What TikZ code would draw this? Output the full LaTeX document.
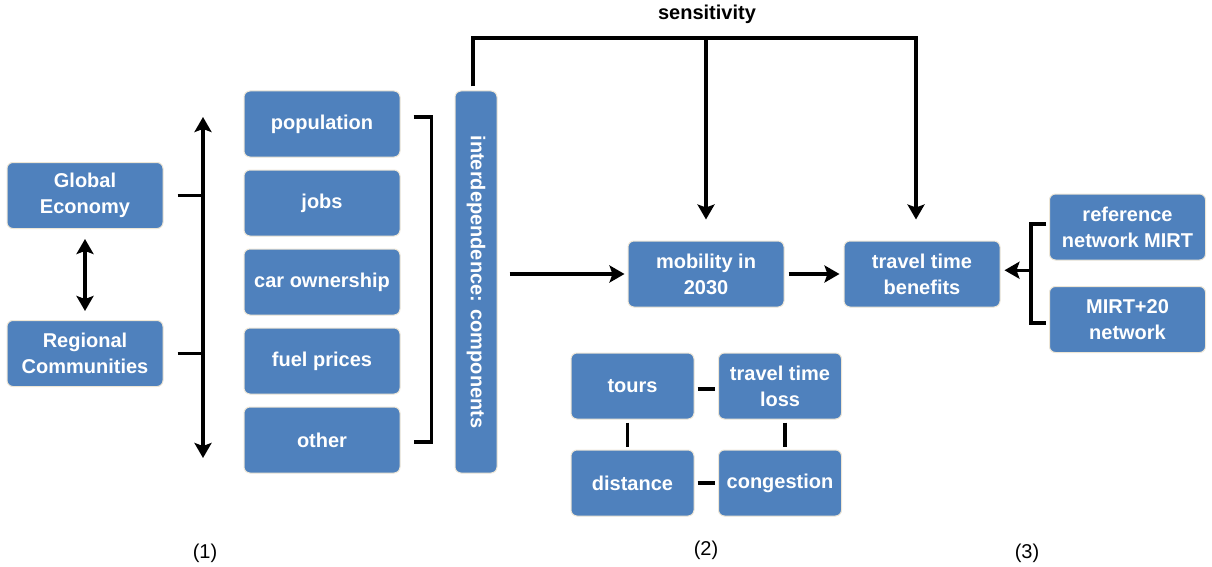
\documentclass[tikz,border=0pt]{standalone}
\usepackage{fontspec}
\setmainfont{Liberation Sans}
\usetikzlibrary{arrows.meta,calc}
\definecolor{boxblue}{HTML}{4F81BD}
\definecolor{boxedge}{HTML}{EDE6D6}
\begin{document}
\begin{tikzpicture}[x=1pt,y=-1pt,
 box/.style={draw=boxedge,line width=1pt,fill=boxblue,rounded corners=6pt,text=white,font=\fontsize{20}{26}\selectfont\bfseries,align=center,minimum width=156pt,minimum height=66pt,inner sep=2pt},
 sbox/.style={box,minimum width=123pt},
 conn/.style={line width=3.5pt,black},
 arr/.style={conn,-{Stealth[length=15pt,width=17pt,inset=3pt]}},
 darr/.style={conn,{Stealth[length=15pt,width=17pt,inset=3pt]}-{Stealth[length=15pt,width=17pt,inset=3pt]}},
 lbl/.style={font=\fontsize{20}{24}\selectfont}]
\useasboundingbox (0,0) rectangle (1212,567);
% left column
\node[box] (ge) at (85,195.5) {Global\\Economy};
\node[box] (rc) at (85,353.5) {Regional\\Communities};
% factors
\node[box] (pop) at (322,124) {population};
\node[box] (jobs) at (322,203) {jobs};
\node[box] (car) at (322,282) {car ownership};
\node[box] (fuel) at (322,361) {fuel prices};
\node[box] (oth) at (322,440) {other};
% interdependence
\node[box,minimum width=42pt,minimum height=382pt] (int) at (476,282) {\rotatebox{-90}{interdependence: components}};
% middle
\node[box] (mob) at (706,274) {mobility in\\2030};
\node[box] (ttb) at (922,274) {travel time\\benefits};
\node[box] (ref) at (1127.5,227) {reference\\network MIRT};
\node[box] (mirt) at (1127.5,319.5) {MIRT+20\\network};
% components
\node[sbox] (tours) at (632.5,386) {tours};
\node[sbox] (ttl) at (780,386) {travel time\\loss};
\node[sbox] (dist) at (632.5,483) {distance};
\node[sbox] (cong) at (780,483) {congestion};
% labels
\node[font=\fontsize{20}{24}\selectfont\bfseries] (sens) at (707,14) {sensitivity};
\node[lbl] (l1) at (205,553) {(1)};
\node[lbl] (l2) at (706,550) {(2)};
\node[lbl] (l3) at (1027,553) {(3)};
% connectors left
\draw[darr,shorten <=10pt,shorten >=9pt] (ge.south) -- (rc.north);
\coordinate (la) at (203,117);
\coordinate (lb) at (203,458);
\draw[darr] (la) -- (lb);
\draw[conn] ([xshift=14pt]ge.east) -- (ge.east -| la);
\draw[conn] ([xshift=14pt]rc.east) -- (rc.east -| la);
% bracket
\draw[conn] ($(pop.east)+(13,-7)$) -| ($(oth.east)+(31,2)$) -- ($(oth.east)+(13,2)$);
% main flow
\draw[arr,shorten <=12pt,shorten >=3pt] (int.east |- mob.west) -- (mob.west);
\draw[arr,shorten <=4pt,shorten >=4pt] (mob) -- (ttb);
\coordinate (top) at (706,38);
\draw[arr,shorten <=4pt,shorten >=21pt] ([xshift=-3pt]int.north) |- (top) -| ([xshift=-6pt]ttb.north);
\draw[arr,shorten >=21pt] (top) -- (mob.north);
% right bracket
\draw[conn] ($(ref.west)+(-3,-3)$) -- ++(-15,0) |- ($(mirt.west)+(-3,3.5)$);
\draw[arr,shorten >=4pt] ($(ref.west)!0.5!(mirt.west)+(-18,-3)$) -- (ttb.east |- {$(ref.west)!0.5!(mirt.west)+(0,-3)$});
% component links
\draw[conn,shorten <=3pt,shorten >=3pt] ([yshift=-3pt]tours.east) -- ([yshift=-3pt]ttl.west);
\draw[conn,shorten <=3pt,shorten >=3pt] (dist) -- (cong);
\draw[conn,shorten <=3pt,shorten >=3pt] ([xshift=-5pt]tours.south) -- ([xshift=-5pt]dist.north);
\draw[conn,shorten <=3pt,shorten >=3pt] ([xshift=5pt]ttl.south) -- ([xshift=5pt]cong.north);
\end{tikzpicture}
\end{document}
